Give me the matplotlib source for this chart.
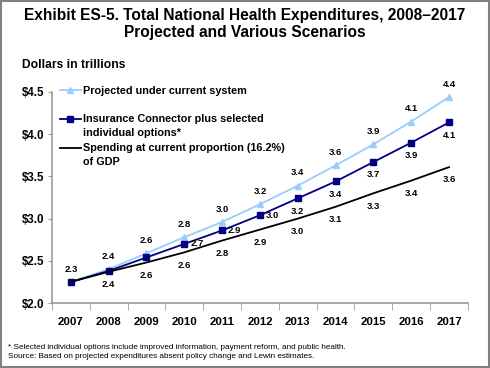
import matplotlib.pyplot as plt
from matplotlib.patches import Rectangle

plt.rcParams['font.family'] = ['Liberation Sans', 'DejaVu Sans']

years = ['2007', '2008', '2009', '2010', '2011', '2012', '2013', '2014', '2015', '2016', '2017']
projected = [2.25, 2.40, 2.59, 2.78, 2.96, 3.17, 3.39, 3.63, 3.88, 4.15, 4.44]
connector = [2.25, 2.38, 2.54, 2.70, 2.86, 3.04, 3.24, 3.44, 3.67, 3.90, 4.14]
gdp_share = [2.25, 2.37, 2.48, 2.60, 2.74, 2.87, 3.00, 3.14, 3.30, 3.45, 3.61]

proj_labels = ['2.3', '2.4', '2.6', '2.8', '3.0', '3.2', '3.4', '3.6', '3.9', '4.1', '4.4']
conn_labels = ['', '', '', '2.7', '2.9', '3.0', '3.2', '3.4', '3.7', '3.9', '4.1']
gdp_labels = ['', '2.4', '2.6', '2.6', '2.8', '2.9', '3.0', '3.1', '3.3', '3.4', '3.6']

# legend names: first line next to the handle, second line below it (Excel style)
series_names = ['Projected under current system',
                'Insurance Connector plus selected',
                'Spending at current proportion (16.2%)']
series_names2 = ['', 'individual options*', 'of GDP']

light = '#99CCFF'
navy = '#000080'

fig = plt.figure(figsize=(4.9, 3.68), dpi=100)
fig.patches.append(Rectangle((0.002, 0.003), 0.995, 0.994, transform=fig.transFigure,
                             fill=False, edgecolor='#808080', linewidth=1.5))
ax = fig.add_axes([0.106, 0.1766, 0.849, 0.5734])

x = list(range(len(years)))
ax.plot(x, projected, color=light, marker='^', markersize=5, linewidth=1.3, label=series_names[0])
ax.plot(x, connector, color=navy, marker='s', markersize=4.5, linewidth=1.3, label=series_names[1])
ax.plot(x, gdp_share, color='black', linewidth=1.3, label=series_names[2])

lab_font = dict(fontsize=6.8, fontweight='bold')
for i in x:
    ax.annotate(proj_labels[i], (i, projected[i]), xytext=(0, 6), textcoords='offset points',
                ha='center', va='bottom', **lab_font)
    if conn_labels[i]:
        if i <= 5:
            ax.annotate(conn_labels[i], (i, connector[i]), xytext=(9, 0), textcoords='offset points',
                        ha='center', va='center', **lab_font)
        else:
            ax.annotate(conn_labels[i], (i, connector[i]), xytext=(0, -6), textcoords='offset points',
                        ha='center', va='top', **lab_font)
    if gdp_labels[i]:
        ax.annotate(gdp_labels[i], (i, gdp_share[i]), xytext=(0, -6), textcoords='offset points',
                    ha='center', va='top', **lab_font)

ax.set_xlim(-0.5, len(years) - 0.5)
ax.set_ylim(2.0, 4.5)
ax.set_yticks([2.0, 2.5, 3.0, 3.5, 4.0, 4.5])
ax.set_yticklabels(['$2.0', '$2.5', '$3.0', '$3.5', '$4.0', '$4.5'], fontsize=8.3, fontweight='bold')
ax.set_xticks(x)
ax.set_xticklabels(years, fontsize=8.2, fontweight='bold')
ax.set_xticks([i + 0.5 for i in x[:-1]] + [-0.5, len(years) - 0.5], minor=True)
ax.tick_params(axis='x', which='major', length=0, pad=10)
ax.tick_params(axis='x', which='minor', length=5, color='#999999', direction='out')
ax.tick_params(axis='y', length=3, color='#999999', pad=2.8)
for s in ['top', 'right']:
    ax.spines[s].set_visible(False)
for s in ['left', 'bottom']:
    ax.spines[s].set_color('#999999')
    ax.spines[s].set_linewidth(1.2)

leg = ax.legend(loc='upper left', bbox_to_anchor=(-0.005, 1.077), frameon=False,
                prop={'size': 7.8, 'weight': 'bold'}, handlelength=2.0, handletextpad=0.2,
                labelspacing=1.75)
for t, extra in zip(leg.get_texts(), series_names2):
    if extra:
        ax.annotate(extra, xy=(0, 0), xycoords=t, xytext=(0, -2.5), textcoords='offset points',
                    ha='left', va='top', fontsize=7.8, fontweight='bold', zorder=10)

fig.text(0.5, 0.957, 'Exhibit ES-5. Total National Health Expenditures, 2008\u20132017',
         ha='center', va='center', fontsize=11.2, fontweight='bold')
fig.text(0.5, 0.911, 'Projected and Various Scenarios',
         ha='center', va='center', fontsize=11.2, fontweight='bold')
fig.text(0.045, 0.823, 'Dollars in trillions', ha='left', va='center', fontsize=8.7, fontweight='bold')
fig.text(0.016, 0.057, '* Selected individual options include improved information, payment reform, and public health.',
         ha='left', va='center', fontsize=5.85)
fig.text(0.016, 0.030, 'Source: Based on projected expenditures absent policy change and Lewin estimates.',
         ha='left', va='center', fontsize=5.85)

fig.savefig('out.png', dpi=100)
